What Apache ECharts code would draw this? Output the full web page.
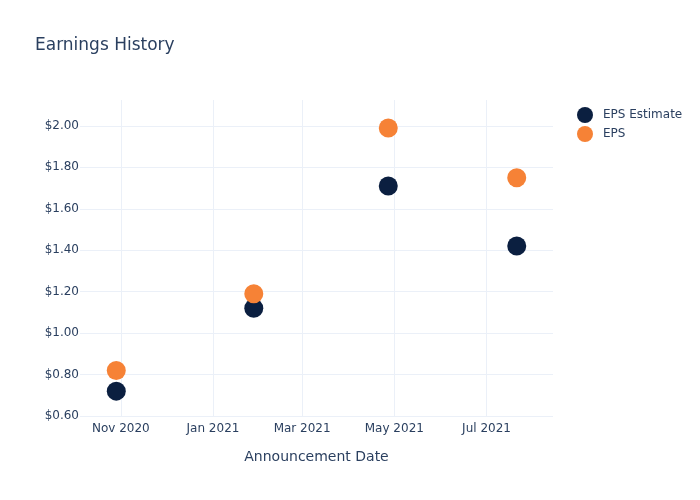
<!DOCTYPE html>
<html>
<head>
<meta charset="utf-8">
<script src="https://cdn.jsdelivr.net/npm/echarts@6/dist/echarts.min.js"></script>
<style>html,body{margin:0;padding:0;background:#fff;}#c{width:700px;height:500px;}</style>
</head>
<body>
<div id="c"></div>
<script>
const announcementDates = ['2020-10-29', '2021-01-28', '2021-04-27', '2021-07-21'];
const epsEstimate = [0.72, 1.12, 1.71, 1.42];
const epsActual = [0.82, 1.19, 1.99, 1.75];
const xTickDates = ['2020-11-01', '2021-01-01', '2021-03-01', '2021-05-01', '2021-07-01'];
const yTicks = [0.6, 0.8, 1.0, 1.2, 1.4, 1.6, 1.8, 2.0];
const monthNames = ['Jan','Feb','Mar','Apr','May','Jun','Jul','Aug','Sep','Oct','Nov','Dec'];

function ts(s) { const p = s.split('-').map(Number); return Date.UTC(p[0], p[1] - 1, p[2]); }
const xTickVals = xTickDates.map(ts);
const FONT = '"DejaVu Sans", Verdana, sans-serif';
const TXT = '#2a3f5f';
const GRID = '#ebf0f8';

const chart = echarts.init(document.getElementById('c'), null, {renderer: 'canvas'});
chart.setOption({
  backgroundColor: '#fff',
  animation: false,
  textStyle: {fontFamily: FONT, color: TXT},
  title: {
    text: 'Earnings History', left: 30, top: 32,
    textStyle: {fontFamily: FONT, fontSize: 17, fontWeight: 'normal', color: TXT}
  },
  legend: {
    orient: 'vertical', left: 572, top: 102, icon: 'circle',
    itemWidth: 26, itemHeight: 16, itemGap: 3,
    textStyle: {fontFamily: FONT, fontSize: 12, color: TXT},
    data: ['EPS Estimate', 'EPS']
  },
  grid: {left: 80, right: 147, top: 100, bottom: 84, containLabel: false},
  xAxis: {
    type: 'value',
    min: ts('2020-10-05'), max: ts('2021-08-14'),
    name: 'Announcement Date', nameLocation: 'middle', nameGap: 34,
    nameTextStyle: {fontFamily: FONT, fontSize: 14, color: TXT},
    axisLine: {show: false},
    axisTick: {show: false, customValues: xTickVals},
    axisLabel: {
      customValues: xTickVals, margin: 7,
      fontFamily: FONT, fontSize: 12, color: TXT,
      formatter: function (v) { const d = new Date(v); return monthNames[d.getUTCMonth()] + ' ' + d.getUTCFullYear(); }
    },
    splitLine: {show: true, showMinLine: true, showMaxLine: true, lineStyle: {color: GRID, width: 1}}
  },
  yAxis: {
    type: 'value', min: 0.6, max: 2.125,
    axisLine: {show: false},
    axisTick: {show: false, customValues: yTicks},
    axisLabel: {
      customValues: yTicks, margin: 1,
      fontFamily: FONT, fontSize: 12, color: TXT,
      formatter: function (v) { return '$' + v.toFixed(2); }
    },
    splitLine: {show: true, showMinLine: true, showMaxLine: true, lineStyle: {color: GRID, width: 1}}
  },
  series: [
    {
      name: 'EPS Estimate', type: 'scatter', symbolSize: 19,
      itemStyle: {color: '#0b1f40', opacity: 1},
      data: announcementDates.map((d, i) => [ts(d), epsEstimate[i]])
    },
    {
      name: 'EPS', type: 'scatter', symbolSize: 19,
      itemStyle: {color: '#f68236', opacity: 1},
      data: announcementDates.map((d, i) => [ts(d), epsActual[i]])
    }
  ]
});
</script>
</body>
</html>
